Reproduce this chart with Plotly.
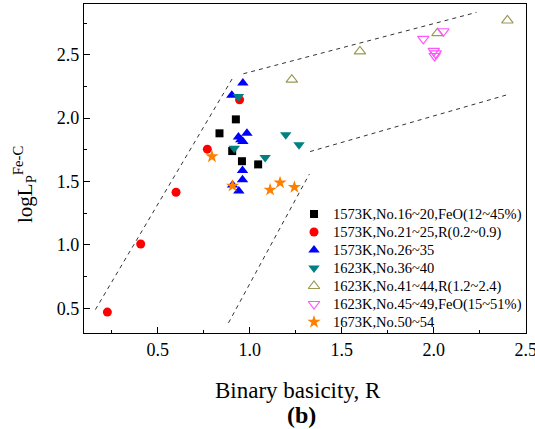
import plotly.graph_objects as go

# ---- data ----
sq_x = [0.925, 0.836, 0.905, 0.958, 1.046]
sq_y = [1.99, 1.88, 1.74, 1.66, 1.635]

ci_x = [0.945, 0.77, 0.60, 0.408, 0.227]
ci_y = [2.145, 1.755, 1.415, 1.007, 0.47]

tu_x = [0.963, 0.903, 0.985, 0.939, 0.952, 0.963, 0.961, 0.961, 0.907, 0.941]
tu_y = [2.276, 2.18, 1.88, 1.85, 1.83, 1.815, 1.586, 1.513, 1.473, 1.426]

td_x = [0.939, 1.196, 1.268, 0.916, 1.084]
td_y = [2.17, 1.868, 1.79, 1.763, 1.69]

ou_x = [1.229, 1.599, 2.02, 2.40]
ou_y = [2.303, 2.526, 2.67, 2.77]

od_x = [1.943, 2.052, 2.0, 2.01, 2.005]
od_y = [2.625, 2.685, 2.53, 2.51, 2.49]

st_x = [0.795, 0.907, 1.111, 1.165, 1.243]
st_y = [1.697, 1.465, 1.434, 1.491, 1.455]

names = [
    "1573K,No.16~20,FeO(12~45%)",
    "1573K,No.21~25,R(0.2~0.9)",
    "1573K,No.26~35",
    "1623K,No.36~40",
    "1623K,No.41~44,R(1.2~2.4)",
    "1623K,No.45~49,FeO(15~51%)",
    "1673K,No.50~54",
]

# dashed guide lines (data units)
g1_x = [0.162, 0.905]; g1_y = [0.49, 2.31]
g2_x = [0.966, 2.232]; g2_y = [2.35, 2.834]
g3_x = [0.885, 1.324]; g3_y = [0.385, 1.558]
g4_x = [1.328, 2.413]; g4_y = [1.736, 2.19]

x_ticks = [0.5, 1.0, 1.5, 2.0, 2.5]
y_ticks = [0.5, 1.0, 1.5, 2.0, 2.5]

FONT = "Liberation Serif, Times New Roman, serif"
W, H = 535, 429
PL, PR, PT, PB = 84, 9, 4, 96
PW, PH = W - PL - PR, H - PT - PB

def fx(px):
    return (px - PL) / PW

def fy(py):
    return 1 - (py - PT) / PH

fig = go.Figure()

for gx, gy in [(g1_x, g1_y), (g2_x, g2_y), (g3_x, g3_y), (g4_x, g4_y)]:
    fig.add_trace(go.Scatter(x=gx, y=gy, mode="lines", showlegend=False,
                             line=dict(color="#333333", width=1, dash="4px,4px"),
                             hoverinfo="skip"))

specs = [
    (sq_x, sq_y, "square", "black", 8, None),
    (ci_x, ci_y, "circle", "#FF0000", 9, None),
    (tu_x, tu_y, "triangle-up", "#0000FF", 10, None),
    (td_x, td_y, "triangle-down", "#008080", 10, None),
    (ou_x, ou_y, "triangle-up-open", "#999955", 10, 1.2),
    (od_x, od_y, "triangle-down-open", "#FF55FF", 10, 1.2),
    (st_x, st_y, "star", "#FF8000", 10, None),
]

# custom legend layout (pixels)
LEG_MX = 314
LEG_TX = 331
LEG_Y0 = 214
LEG_DY = 18

annotations = []
for i, ((xs, ys, sym, col, sz, lw), nm) in enumerate(zip(specs, names)):
    mk = dict(symbol=sym, color=col, size=sz)
    if lw:
        mk["line"] = dict(color=col, width=lw)
    else:
        mk["line"] = dict(width=0)
    fig.add_trace(go.Scatter(x=xs, y=ys, mode="markers", name=nm, marker=mk,
                             showlegend=False))
    ly = LEG_Y0 + i * LEG_DY
    fig.add_trace(go.Scatter(x=[fx(LEG_MX)], y=[fy(ly)], mode="markers",
                             marker=mk, xaxis="x2", yaxis="y2",
                             showlegend=False, hoverinfo="skip"))
    annotations.append(dict(text=nm, x=fx(LEG_TX), y=fy(ly), xref="paper", yref="paper",
                            showarrow=False, xanchor="left", yanchor="middle",
                            font=dict(family=FONT, size=14.5, color="black")))

minor = dict(ticks="inside", ticklen=3, tickwidth=1.2, tickcolor="black", dtick=0.25, tick0=0)

def axis(rng, ticks):
    return dict(
        range=rng, tickmode="array", tickvals=ticks,
        ticktext=[f"{v:.1f}" for v in ticks],
        showline=True, linecolor="black", linewidth=1.3, mirror=True,
        ticks="inside", ticklen=6, tickwidth=1.2, tickcolor="black",
        showgrid=False, zeroline=False, minor=minor,
        ticklabeloverflow="allow", automargin=False,
        tickfont=dict(family=FONT, size=18, color="black"),
    )

annotations += [
    dict(text="Binary basicity, R", x=fx(297.5), y=fy(390),
         xref="paper", yref="paper", showarrow=False,
         font=dict(family=FONT, size=23, color="black"),
         xanchor="center", yanchor="middle"),
    dict(text="<b>(b)</b>", x=fx(301), y=fy(415),
         xref="paper", yref="paper", showarrow=False,
         font=dict(family=FONT, size=24, color="black"),
         xanchor="center", yanchor="middle"),
    dict(text="logL<sub>P</sub><sup>Fe-C</sup>", x=fx(24), y=fy(185),
         xref="paper", yref="paper", showarrow=False, textangle=-90,
         font=dict(family=FONT, size=21, color="black"),
         xanchor="center", yanchor="middle"),
]

fig.update_layout(
    width=W, height=H,
    margin=dict(l=PL, r=PR, t=PT, b=PB, autoexpand=False),
    plot_bgcolor="white", paper_bgcolor="white",
    font=dict(family=FONT, color="black"),
    showlegend=False,
    xaxis=axis([0.1, 2.501], x_ticks),
    yaxis=axis([0.305, 2.9], y_ticks),
    xaxis2=dict(overlaying="x", range=[0, 1], visible=False, fixedrange=True),
    yaxis2=dict(overlaying="y", range=[0, 1], visible=False, fixedrange=True),
    annotations=annotations,
)

fig.write_html("out.html")
